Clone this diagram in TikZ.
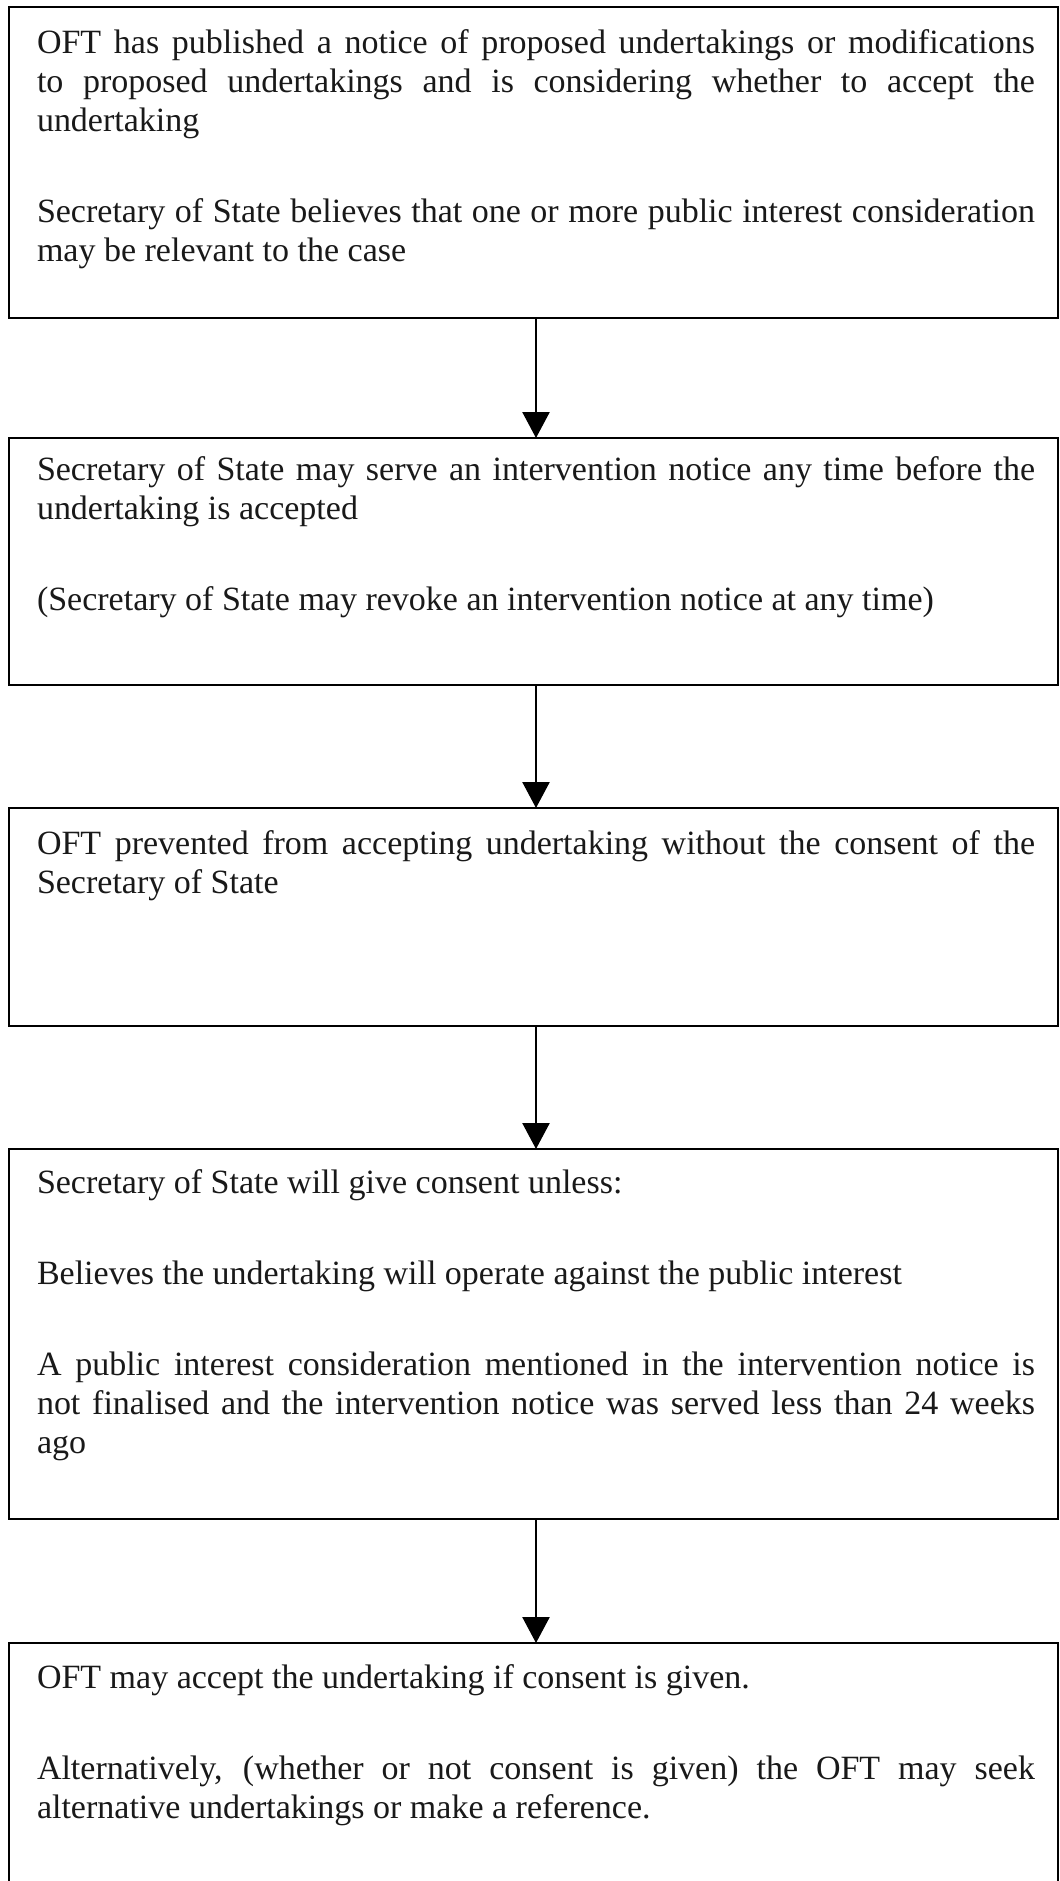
\documentclass[tikz,border=0pt]{standalone}
\usepackage{fontspec}
\setmainfont{Liberation Serif}
\usetikzlibrary{arrows.meta,calc}
\tikzset{
  box/.style={rectangle, draw=black, line width=1.25pt, minimum width=524.5pt, outer sep=0pt, inner sep=0pt},
  txt/.style={anchor=base west, inner sep=0pt, outer sep=0pt, text=black!90},
  flow/.style={line width=1.25pt, -{Triangle[length=13pt,width=13.5pt]}},
}
\newcommand{\boxtext}[1]{\parbox[t]{499pt}{\fontsize{17}{19.5}\selectfont\setlength{\parskip}{26pt}\setlength{\parindent}{0pt}#1}}
\begin{document}
\begin{tikzpicture}[x=0.5pt,y=-0.5pt]
\useasboundingbox (0,0) rectangle (1060,1881);
\fill[white] (0,0) rectangle (1060,1881);
% boxes
\node[box, minimum height=155.5pt] (b1) at (533.5,162.5) {};
\node[box, minimum height=123.5pt] (b2) at (533.5,561.5) {};
\node[box, minimum height=109pt]   (b3) at (533.5,917) {};
\node[box, minimum height=185pt]   (b4) at (533.5,1334) {};
\node[box, minimum height=128.5pt] (b5) at (533.5,1771.5) {};
% texts
\node[txt] (t1) at ($(b1.north west)+(28,46)$) {\boxtext{OFT has published a notice of proposed undertakings or modifications\linebreak to proposed undertakings and is considering whether to accept the\linebreak undertaking\par Secretary of State believes that one or more public interest consideration\linebreak may be relevant to the case}};
\node[txt] (t2) at ($(b2.north west)+(28,42)$) {\boxtext{Secretary of State may serve an intervention notice any time before the\linebreak undertaking is accepted\par (Secretary of State may revoke an intervention notice at any time)}};
\node[txt] (t3) at ($(b3.north west)+(28,46)$) {\boxtext{OFT prevented from accepting undertaking without the consent of the\linebreak Secretary of State}};
\node[txt] (t4) at ($(b4.north west)+(28,44)$) {\boxtext{Secretary of State will give consent unless:\par Believes the undertaking will operate against the public interest\par A public interest consideration mentioned in the intervention notice is\linebreak not finalised and the intervention notice was served less than 24 weeks\linebreak ago}};
\node[txt] (t5) at ($(b5.north west)+(28,45)$) {\boxtext{OFT may accept the undertaking if consent is given.\par Alternatively, (whether or not consent is given) the OFT may seek\linebreak alternative undertakings or make a reference.}};
% connectors
\draw[flow] ($(b1.south)+(2.5,0)$) -- ($(b2.north)+(2.5,0)$);
\draw[flow] ($(b2.south)+(2.5,0)$) -- ($(b3.north)+(2.5,0)$);
\draw[flow] ($(b3.south)+(2.5,0)$) -- ($(b4.north)+(2.5,0)$);
\draw[flow] ($(b4.south)+(2.5,0)$) -- ($(b5.north)+(2.5,0)$);
\end{tikzpicture}
\end{document}
